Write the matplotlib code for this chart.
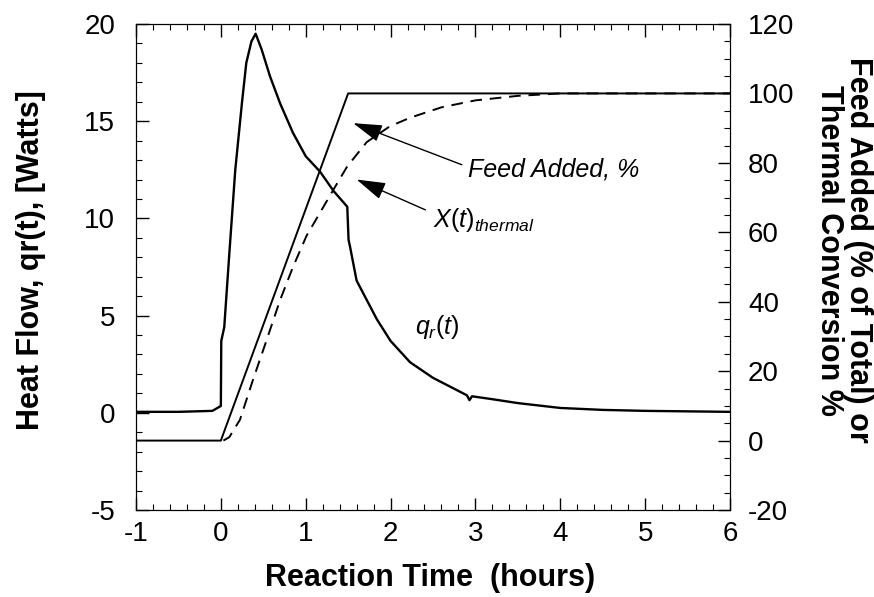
import matplotlib
matplotlib.use("Agg")
import matplotlib.pyplot as plt
from matplotlib.ticker import MultipleLocator

plt.rcParams["font.family"] = ["Liberation Sans", "DejaVu Sans"]
plt.rcParams["mathtext.fontset"] = "custom"
plt.rcParams["mathtext.rm"] = "Liberation Sans"
plt.rcParams["mathtext.it"] = "Liberation Sans:italic"
plt.rcParams["axes.unicode_minus"] = False

# heat flow qr(t), Watts (left axis)
qr_time = [-1.0, -0.5, -0.1, -0.02, 0.0, 0.005, 0.04, 0.1, 0.17, 0.25, 0.3, 0.36,
           0.41, 0.48, 0.58, 0.7, 0.85, 1.0, 1.17, 1.33, 1.49, 1.505, 1.52, 1.6,
           1.84, 2.0, 2.23, 2.5, 2.9, 2.93, 2.96, 3.2, 3.5, 4.0, 4.5, 5.0, 6.0]
qr_watts = [0.05, 0.05, 0.1, 0.3, 0.35, 3.7, 4.4, 8.2, 12.5, 16.0, 18.0, 19.1,
            19.5, 18.7, 17.3, 15.9, 14.4, 13.2, 12.4, 11.4, 10.6, 8.9, 8.6, 6.8,
            4.8, 3.7, 2.6, 1.8, 0.9, 0.65, 0.85, 0.7, 0.5, 0.25, 0.15, 0.1, 0.05]

# feed added, % of total (right axis)
feed_time = [-1.0, 0.0, 1.5, 6.0]
feed_pct = [0, 0, 100, 100]

# thermal conversion, % (right axis)
conv_time = [0.03, 0.1, 0.225, 0.38, 0.54, 0.7, 0.85, 1.01, 1.17, 1.32, 1.49,
             1.72, 1.99, 2.23, 2.6, 3.0, 3.5, 4.0, 6.0]
conv_pct = [0, 1, 6, 17.6, 29, 40.6, 50, 59, 65.7, 72, 79,
            86, 90.5, 93, 96, 98, 99.3, 100, 100]

fig = plt.figure(figsize=(8.74, 5.97), dpi=100)
ax = fig.add_axes([0.1556, 0.1457, 0.6796, 0.8141])
ax2 = ax.twinx()

ax.plot(qr_time, qr_watts, color="black", lw=1.7)
ax2.plot(feed_time, feed_pct, color="black", lw=1.4)
ax2.plot(conv_time, conv_pct, color="black", lw=1.4, dashes=(6, 4))

ax.set_xlim(-1, 6)
ax.set_ylim(-5, 20)
ax2.set_ylim(-20, 120)

ax.xaxis.set_major_locator(MultipleLocator(1))
ax.xaxis.set_minor_locator(MultipleLocator(0.2))
ax.yaxis.set_major_locator(MultipleLocator(5))
ax.yaxis.set_minor_locator(MultipleLocator(1))
ax2.yaxis.set_major_locator(MultipleLocator(20))
ax2.yaxis.set_minor_locator(MultipleLocator(5))

ax.tick_params(axis="both", which="both", direction="in", top=True, right=False,
               labelsize=20)
ax.tick_params(axis="x", pad=8)
ax.tick_params(axis="y", pad=15)
ax.tick_params(which="major", length=9, width=1)
ax.tick_params(which="minor", length=4.5, width=0.8)
ax2.tick_params(axis="y", which="both", direction="in", labelsize=20, pad=13)
ax2.tick_params(which="major", length=9, width=1)
ax2.tick_params(which="minor", length=4.5, width=0.8)

fig.text(0.492, 0.032, "Reaction Time  (hours)", fontsize=22, fontweight="bold",
         ha="center", va="center")
fig.text(0.036, 0.565, "Heat Flow, qr(t), [Watts]", fontsize=22, fontweight="bold",
         rotation=90, ha="center", va="center", rotation_mode="anchor")
fig.text(0.965, 0.581, "Feed Added (% of Total) or\nThermal Conversion %",
         fontsize=22, fontweight="bold", rotation=270, ha="center", va="center",
         rotation_mode="anchor", multialignment="center", linespacing=0.95)

arrow = dict(arrowstyle="-|>,head_length=1.0,head_width=0.3", color="black",
             lw=1, shrinkA=0, shrinkB=0, mutation_scale=18)
ax.annotate("", xy=(1.56, 14.9), xytext=(2.84, 12.76), arrowprops=arrow)
ax.text(2.91, 12.5, "Feed Added, %", fontsize=18, style="italic", va="center")
ax.annotate("", xy=(1.60, 12.0), xytext=(2.41, 10.44), arrowprops=arrow)
ax.text(2.5, 9.9, r"$\mathit{X(t)}_{\mathit{thermal}}$", fontsize=18, va="center")
ax.text(2.29, 4.4, r"$\mathit{q}_{\mathit{r}}\mathit{(t)}$", fontsize=18, va="center")

fig.savefig("out.png", dpi=100)
